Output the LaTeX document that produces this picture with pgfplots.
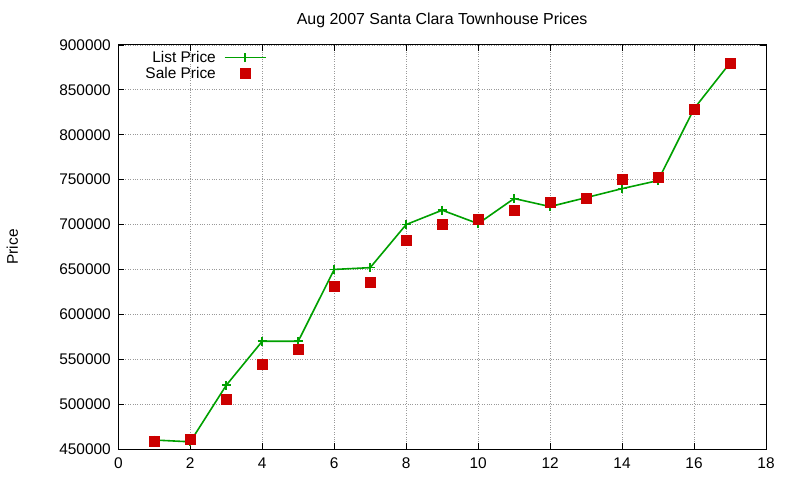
\documentclass[border=0pt]{standalone}
\usepackage{pgfplots}
\pgfplotsset{compat=1.18}
\usepackage{fontspec}
\setmainfont{Liberation Sans}
\definecolor{lgreen}{RGB}{0,160,0}
\definecolor{sred}{RGB}{204,0,0}
\begin{document}
\begin{tikzpicture}
\begin{axis}[
  scale only axis,
  width=647.7bp, height=404bp,
  xmin=0, xmax=18, ymin=450000, ymax=900000,
  xtick={0,2,...,18},
  ytick={450000,500000,...,900000},
  scaled y ticks=false,
  yticklabel style={/pgf/number format/fixed,/pgf/number format/1000 sep={}, xshift=-4bp},
  xticklabel style={yshift=-5bp},
  /pgf/number format/assume math mode=true,
  tick label style={font=\fontsize{15.5}{17}\selectfont},
  tick align=inside,
  major tick length=6bp,
  axis line style={line width=1bp},
  every tick/.style={black,line width=0.8bp},
  grid=major,
  major grid style={gray!80, dotted, line width=0.8bp},
  title={Aug 2007 Santa Clara Townhouse Prices},
  title style={font=\fontsize{16}{17}\selectfont, at={(0.5,1)}, anchor=south, yshift=8bp},
  ylabel={Price},
  ylabel style={font=\fontsize{15.5}{17}\selectfont, at={(rel axis cs:0,0.5)}, anchor=center, yshift=106bp},
  legend style={draw=none, fill=none, at={(0.037,1)}, anchor=north west, yshift=-3bp,
    font=\fontsize{15.5}{16}\selectfont, row sep=-1bp, inner sep=1bp},
  legend cell align=right,
  legend plot pos=right,
]
\addplot[lgreen, line width=1.6bp, mark=+, mark size=4.5bp, mark options={line width=1.6bp},
  legend image code/.code={\path (0bp,0bp); \draw[lgreen, line width=1.6bp] (6bp,0bp) -- (47bp,0bp);
    \draw[lgreen, line width=1.6bp] (26.5bp,-4.5bp) -- (26.5bp,4.5bp) (22bp,0bp) -- (31bp,0bp);}] coordinates {
(1,460000) (2,458000) (3,521000) (4,570000) (5,570000) (6,650000) (7,652000)
(8,700000) (9,716000) (10,701000) (11,729000) (12,720000) (13,730000) (14,740000)
(15,749000) (16,829000) (17,880000)};
\addlegendentry{List Price}
\addplot[only marks, mark=square*, sred, mark size=5bp,
  legend image code/.code={\path (0bp,0bp) (47bp,0bp); \fill[sred] (21.5bp,-5bp) rectangle (31.5bp,5bp);}] coordinates {
(1,459000) (2,461000) (3,505000) (4,545000) (5,561000) (6,631000) (7,636000)
(8,683000) (9,700000) (10,706000) (11,716000) (12,725000) (13,729000) (14,751000)
(15,753000) (16,829000) (17,880000)};
\addlegendentry{Sale Price}
\end{axis}
\pgfresetboundingbox
\path[use as bounding box] (-118.3bp,-31bp) rectangle (681.7bp,449bp);
\end{tikzpicture}
\end{document}
